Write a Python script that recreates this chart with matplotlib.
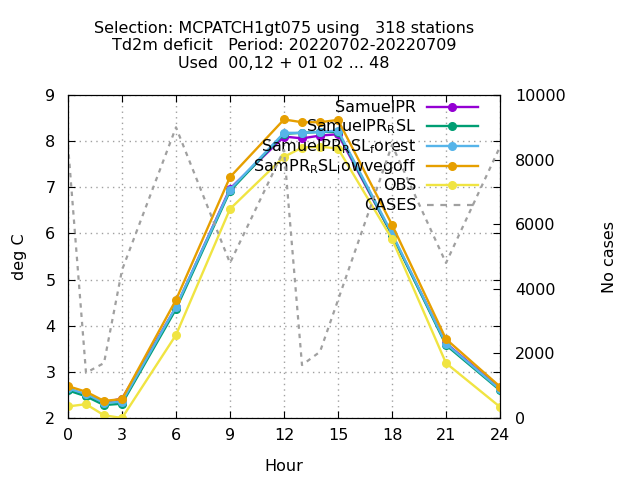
import matplotlib
matplotlib.use('Agg')
import matplotlib.pyplot as plt
from matplotlib.lines import Line2D

plt.rcParams['font.family'] = ['DejaVu Sans']
plt.rcParams['font.size'] = 11.5
plt.rcParams['mathtext.default'] = 'regular'

# data
hours = [0, 1, 2, 3, 6, 9, 12, 13, 14, 15, 18, 21, 24]
samuelpr = [2.63, 2.50, 2.34, 2.42, 4.40, 6.97, 8.10, 8.06, 8.12, 8.15, 5.97, 3.62, 2.64]
samuelpr_rsl = [2.60, 2.47, 2.28, 2.31, 4.36, 6.92, 8.16, 8.18, 8.20, 8.20, 5.97, 3.58, 2.60]
samuelpr_rsl_forest = [2.64, 2.52, 2.33, 2.35, 4.41, 6.95, 8.18, 8.18, 8.20, 8.23, 6.00, 3.61, 2.62]
sampr_rsl_lowvegoff = [2.69, 2.57, 2.37, 2.41, 4.56, 7.22, 8.47, 8.41, 8.41, 8.46, 6.19, 3.71, 2.68]
obs = [2.25, 2.30, 2.06, 2.00, 3.80, 6.53, 7.66, 7.86, 7.88, 7.84, 5.88, 3.19, 2.24]
cases = [8450, 1400, 1700, 4580, 9000, 4800, 8300, 1640, 2050, 3650, 8450, 4800, 8400]

labels = ['SamuelPR', 'SamuelPR$_{R}$SL', 'SamuelPR$_{R}$SL$_{f}$orest',
          'SamPR$_{R}$SL$_{l}$owvegoff', 'OBS', 'CASES']
colors = ['#9400d3', '#009e73', '#56b4e9', '#e69f00', '#f0e442', '#a0a0a0']

fig = plt.figure(figsize=(6.4, 4.8), dpi=100)
ax = fig.add_axes([68/640, 62/480, 432/640, 323/480])
ax2 = ax.twinx()

series = [samuelpr, samuelpr_rsl, samuelpr_rsl_forest, sampr_rsl_lowvegoff, obs]
for vals, col in zip(series, colors[:5]):
    ax.plot(hours, vals, color=col, lw=1.7, marker='o', ms=5.5, zorder=3)
ax2.plot(hours, cases, color=colors[5], lw=1.6, dashes=(2, 2.2))

ax.set_xlim(0, 24)
ax.set_ylim(2, 9)
ax2.set_ylim(0, 10000)
ax.set_xticks(range(0, 25, 3))
ax.set_yticks(range(2, 10))
ax2.set_yticks(range(0, 10001, 2000))

ax.grid(True, color='#a0a0a0', lw=1, linestyle=(0, (1, 3)))
ax.set_axisbelow(True)
ax.tick_params(direction='in', length=5, width=0.8, top=True, right=True, pad=7)
ax.tick_params(axis='y', pad=9)
ax2.tick_params(direction='in', length=5, width=0.8, pad=11)

ax.set_xlabel('Hour', labelpad=12)
ax.set_ylabel('deg C', labelpad=13)
ax2.set_ylabel('No cases', labelpad=26)

fig.text(284/640, 1 - 46/480,
         'Selection: MCPATCH1gt075 using   318 stations\n'
         'Td2m deficit   Period: 20220702-20220709\n'
         'Used  00,12 + 01 02 ... 48',
         ha='center', va='center', linespacing=1.25)

# legend, gnuplot style: text right aligned, key on the right
for i, (lab, col) in enumerate(zip(labels, colors)):
    y = 0.963 - i * 0.0605
    if i < 5:
        ax.add_line(Line2D([0.831, 0.949], [y, y], transform=ax.transAxes,
                           color=col, lw=1.7, zorder=4))
        ax.add_line(Line2D([0.89], [y], transform=ax.transAxes, color=col,
                           marker='o', ms=5.5, zorder=4))
    else:
        ax2.add_line(Line2D([0.831, 0.949], [y, y], transform=ax.transAxes,
                            color=col, lw=1.6, dashes=(3, 3)))
    ax.text(0.806, y - 0.016, lab, transform=ax.transAxes, ha='right',
            va='baseline', zorder=5)

fig.savefig('out.png', dpi=100)
